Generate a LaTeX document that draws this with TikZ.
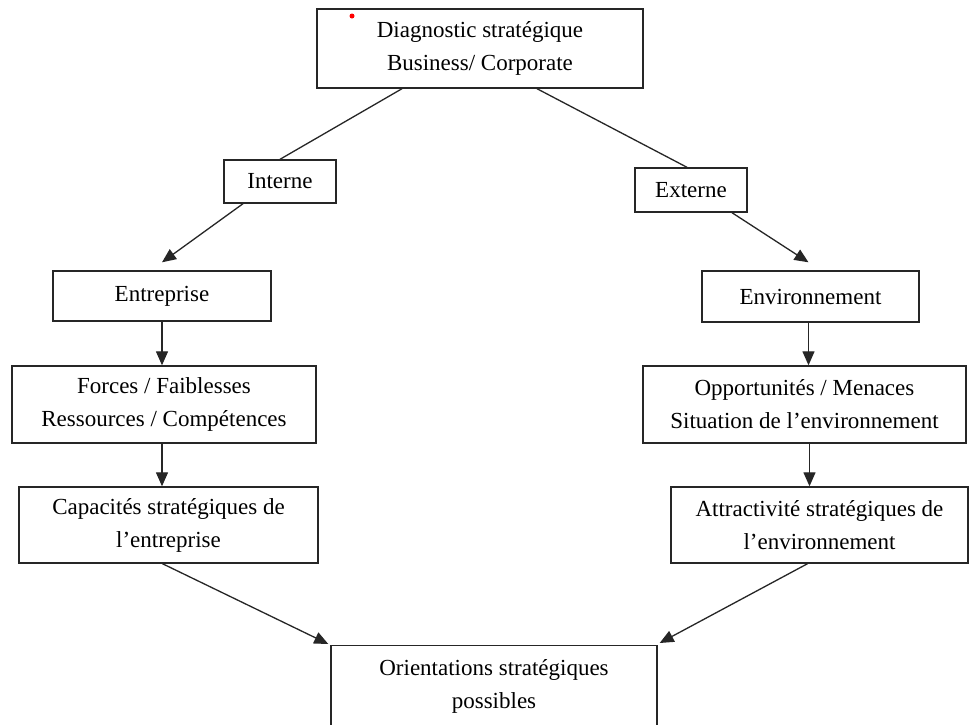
\documentclass[tikz,border=0pt]{standalone}
\usepackage{fontspec}
\setmainfont{Liberation Serif}
\usetikzlibrary{arrows.meta}
\begin{document}
\begin{tikzpicture}[x=1pt,y=-1pt,
  box/.style={draw=black!85,line width=1.4pt,rectangle,inner sep=0pt,align=center,
    font=\fontsize{23}{33}\selectfont},
  link/.style={draw=black!85,line width=1.3pt},
  arr/.style={link,-{Triangle[length=14pt,width=12pt]}}]
\clip (0,0) rectangle (970,724);
\fill[white] (0,0) rectangle (970,724);

% boxes
\node[box,minimum width=326,minimum height=79] (top) at (480,48.5)
  {Diagnostic stratégique\\Business/ Corporate};
\node[box,minimum width=112,minimum height=43] (int) at (280,181.5) {Interne};
\node[box,minimum width=112,minimum height=44] (ext) at (691,190) {Externe};
\node[box,minimum width=218,minimum height=50] (ent) at (162,296) {Entreprise};
\node[box,minimum width=217,minimum height=51] (env) at (810.5,296.5) {Environnement};
\node[box,minimum width=304,minimum height=77] (forces) at (164,404.5)
  {Forces / Faiblesses\\Ressources / Compétences};
\node[box,minimum width=323,minimum height=77] (opp) at (804.5,404.5)
  {Opportunités / Menaces\\Situation de l’environnement};
\node[box,minimum width=299,minimum height=76] (cap) at (168.5,525)
  {Capacités stratégiques de\\l’entreprise};
\node[box,minimum width=297,minimum height=76] (attr) at (819.5,525)
  {Attractivité stratégiques de\\l’environnement};
\node[box,anchor=north,minimum width=326,inner ysep=14pt,text depth=60pt] (orient) at (494,645)
  {Orientations stratégiques\\possibles};

% marker
\fill[red] (352,16) circle (2.5);

% connectors
\draw[link] ([xshift=-78pt]top.south) -- (int.north);
\draw[link] ([xshift=57pt]top.south) -- ([xshift=-4pt]ext.north);
\draw[arr] ([xshift=-37pt]int.south) -- ([yshift=8pt]ent.north);
\draw[arr] ([xshift=41pt]ext.south) -- ([yshift=8pt,xshift=-2pt]env.north);
\draw[arr] (ent.south) -- (ent.south |- forces.north);
\draw[arr] ([xshift=-2pt]forces.south) -- ([xshift=-2pt]forces.south |- cap.north);
\draw[arr] ([xshift=-2pt]env.south) -- ([xshift=-2pt]env.south |- opp.north);
\draw[arr] ([xshift=5pt]opp.south) -- ([xshift=5pt]opp.south |- attr.north);
\draw[arr] ([xshift=-6pt]cap.south) -- ([xshift=-2pt,yshift=1pt]orient.north west);
\draw[arr] ([xshift=-12pt]attr.south) -- ([xshift=2pt,yshift=2pt]orient.north east);
\end{tikzpicture}
\end{document}
